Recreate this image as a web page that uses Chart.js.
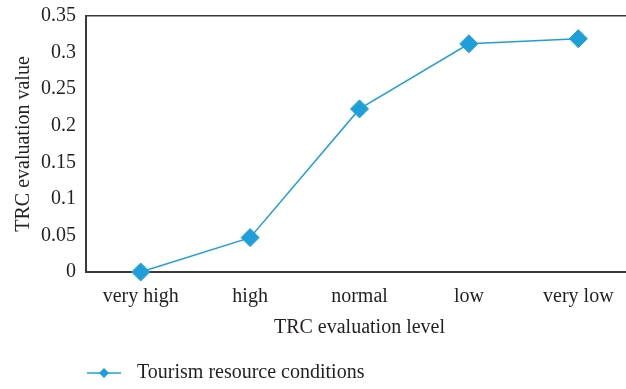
<!DOCTYPE html>
<html>
<head>
<meta charset="utf-8">
<title>TRC evaluation</title>
<script src="https://cdn.jsdelivr.net/npm/chart.js@4.4.0/dist/chart.umd.min.js"></script>
<style>
  html, body { margin: 0; padding: 0; background: #fff; overflow: hidden; }
  #wrap { width: 643px; height: 389px; }
</style>
</head>
<body>
<div id="wrap"><canvas id="trcChart" width="643" height="389"></canvas></div>
<script>
// data
const levels = ['very high', 'high', 'normal', 'low', 'very low'];
const trcValues = [0, 0.047, 0.223, 0.312, 0.319];
const yTicks = [0, 0.05, 0.1, 0.15, 0.2, 0.25, 0.3, 0.35];
const seriesName = 'Tourism resource conditions';

const blue = '#1f9fd9';
const ink = '#231f20';
const axisInk = '#3a3a3a';
const serif = "'Liberation Serif', 'DejaVu Serif', serif";

Chart.defaults.font.family = serif;
Chart.defaults.font.size = 20;
Chart.defaults.color = ink;

// legend under the axis title: short line + diamond, then the name
const lineLegend = {
  id: 'lineLegend',
  afterDraw(chart) {
    const ctx = chart.ctx;
    const x0 = chart.chartArea.left + 1;
    const y = 373;
    ctx.save();
    ctx.strokeStyle = blue;
    ctx.lineWidth = 1.5;
    ctx.beginPath();
    ctx.moveTo(x0, y);
    ctx.lineTo(x0 + 34, y);
    ctx.stroke();
    ctx.fillStyle = blue;
    ctx.beginPath();
    ctx.moveTo(x0 + 17 - 5, y);
    ctx.lineTo(x0 + 17, y - 5);
    ctx.lineTo(x0 + 17 + 5, y);
    ctx.lineTo(x0 + 17, y + 5);
    ctx.closePath();
    ctx.fill();
    ctx.fillStyle = ink;
    ctx.font = '20px ' + serif;
    ctx.textBaseline = 'middle';
    ctx.fillText(chart.data.datasets[0].label, x0 + 50, y);
    ctx.restore();
  }
};

const data = {
  labels: levels,
  datasets: [{
    label: seriesName,
    data: trcValues,
    borderColor: blue,
    backgroundColor: blue,
    borderWidth: 1.5,
    pointStyle: 'rectRot',
    pointRadius: 9,
    pointHoverRadius: 9,
    pointBorderWidth: 1,
    tension: 0,
    clip: false
  }]
};

const config = {
  type: 'line',
  data,
  options: {
    responsive: false,
    animation: false,
    layout: {
      padding: { top: 16, left: 0, right: 0, bottom: 49 }
    },
    plugins: {
      legend: { display: false },
      tooltip: { enabled: false }
    },
    scales: {
      x: {
        offset: true,
        grid: { display: false, drawTicks: false },
        border: { display: true, color: axisInk, width: 2 },
        ticks: { padding: 13, color: ink },
        title: {
          display: true,
          text: 'TRC evaluation level',
          color: ink,
          padding: 0
        },
        afterFit(scale) { scale.height = 68; }
      },
      y: {
        min: 0,
        max: 0.35,
        afterBuildTicks(scale) {
          scale.ticks = yTicks.map(v => ({ value: v }));
        },
        grid: {
          drawTicks: false,
          lineWidth: 1.5,
          color: ctx => (ctx.tick && ctx.tick.value === 0.35) ? axisInk : 'rgba(0,0,0,0)'
        },
        border: { display: true, color: axisInk, width: 2 },
        ticks: {
          padding: 10,
          color: ink,
          callback: v => String(v)
        },
        title: {
          display: true,
          text: 'TRC evaluation value',
          color: ink,
          padding: { top: 12, bottom: 0 }
        },
        afterFit(scale) {
          scale.width = 86;
          scale.paddingTop = 0;
          scale.paddingBottom = 0;
        }
      }
    }
  },
  plugins: [lineLegend]
};

const trcChart = new Chart(document.getElementById('trcChart'), config);
</script>
</body>
</html>
